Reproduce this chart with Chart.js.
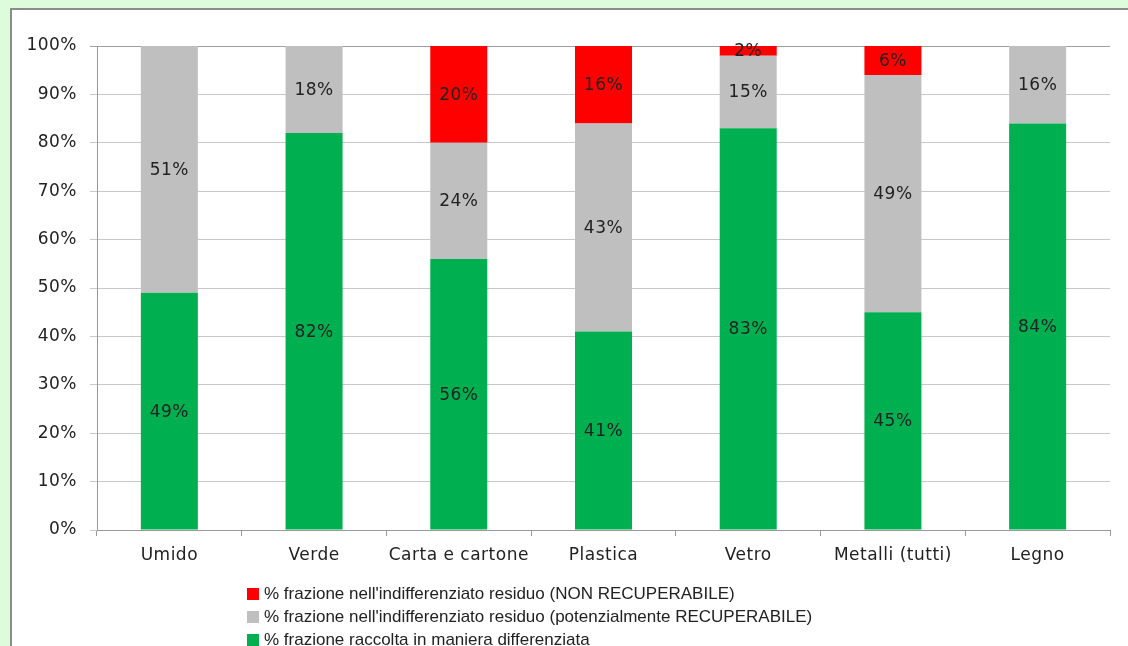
<!DOCTYPE html>
<html>
<head>
<meta charset="utf-8">
<script src="https://cdn.jsdelivr.net/npm/chart.js@4/dist/chart.umd.min.js"></script>
<style>
  html, body { margin: 0; padding: 0; }
  body { width: 1128px; height: 646px; background: #dcfcdc; overflow: hidden; position: relative; }
  #panel { position: absolute; left: 10px; top: 8px; width: 1200px; height: 700px; background: #fff; border: 2px solid #8c8c8c; }
  #grafico { position: absolute; left: 0; top: 0; }
  #legenda { position: absolute; left: 247px; top: 582px; font-family: 'Liberation Sans', sans-serif; font-size: 17px; color: #222; }
  .voce { display: flex; align-items: center; height: 23px; white-space: nowrap; }
  .quadrato { width: 12px; height: 12px; margin-right: 5px; }
</style>
</head>
<body>
<div id="panel"></div>
<canvas id="grafico" width="1128" height="646"></canvas>
<div id="legenda"></div>
<script>
// frazioni merceologiche
const categorie = ['Umido', 'Verde', 'Carta e cartone', 'Plastica', 'Vetro', 'Metalli (tutti)', 'Legno'];
// percentuali per frazione
const differenziata = [49, 82, 56, 41, 83, 45, 84];
const recuperabile = [51, 18, 24, 43, 15, 49, 16];
const nonRecuperabile = [0, 0, 20, 16, 2, 6, 0];

const etichetteSerie = [
  '% frazione raccolta in maniera differenziata',
  "% frazione nell'indifferenziato residuo (potenzialmente RECUPERABILE)",
  "% frazione nell'indifferenziato residuo (NON RECUPERABILE)"
];
const colori = ['#00b050', '#bfbfbf', '#ff0000'];

const font = { family: "'DejaVu Sans', sans-serif", size: 17 };

// testo leggermente spaziato su tutto il canvas
const spaziatura = {
  id: 'spaziatura',
  beforeDraw(chart) { chart.ctx.letterSpacing = '0.5px'; }
};

// scrive il valore al centro di ogni segmento
const valori = {
  id: 'valori',
  afterDatasetsDraw(chart) {
    const ctx = chart.ctx;
    ctx.save();
    ctx.font = '17px "DejaVu Sans", sans-serif';
    ctx.fillStyle = '#222';
    ctx.textAlign = 'center';
    ctx.textBaseline = 'middle';
    chart.data.datasets.forEach((ds, i) => {
      chart.getDatasetMeta(i).data.forEach((bar, j) => {
        const v = ds.data[j];
        if (!v) return;
        ctx.fillText(v + '%', bar.x, (bar.y + bar.base) / 2 + 1);
      });
    });
    ctx.restore();
  }
};

const serie = [differenziata, recuperabile, nonRecuperabile];

const chart = new Chart(document.getElementById('grafico'), {
  type: 'bar',
  data: {
    labels: categorie,
    datasets: serie.map((d, i) => ({
      label: etichetteSerie[i],
      data: d,
      backgroundColor: colori[i],
      borderWidth: 0,
      barPercentage: 0.394,
      categoryPercentage: 1
    }))
  },
  options: {
    responsive: false,
    animation: false,
    layout: { padding: { top: 46, right: 18, left: 0, bottom: 0 } },
    plugins: { legend: { display: false }, tooltip: { enabled: false } },
    scales: {
      x: {
        stacked: true,
        grid: { drawOnChartArea: false, tickLength: 6, color: '#999' },
        border: { color: '#999' },
        ticks: { font: font, color: '#222', padding: 9 },
        afterFit: s => { s.height = 116; }
      },
      y: {
        stacked: true,
        min: 0,
        max: 100,
        ticks: { stepSize: 10, font: font, color: '#222', padding: 13, callback: v => v + '%' },
        grid: { tickLength: 7, color: c => c.tick && c.tick.value === 100 ? '#a0a0a0' : '#c8c8c8' },
        border: { color: '#999' },
        afterFit: s => { s.width = 97; }
      }
    }
  },
  plugins: [spaziatura, valori]
});

// legenda in ordine inverso rispetto all'impilamento
const legenda = document.getElementById('legenda');
chart.data.datasets.slice().reverse().forEach(ds => {
  const riga = document.createElement('div');
  riga.className = 'voce';
  const q = document.createElement('span');
  q.className = 'quadrato';
  q.style.background = ds.backgroundColor;
  const t = document.createElement('span');
  t.textContent = ds.label;
  riga.appendChild(q);
  riga.appendChild(t);
  legenda.appendChild(riga);
});
</script>
</body>
</html>
